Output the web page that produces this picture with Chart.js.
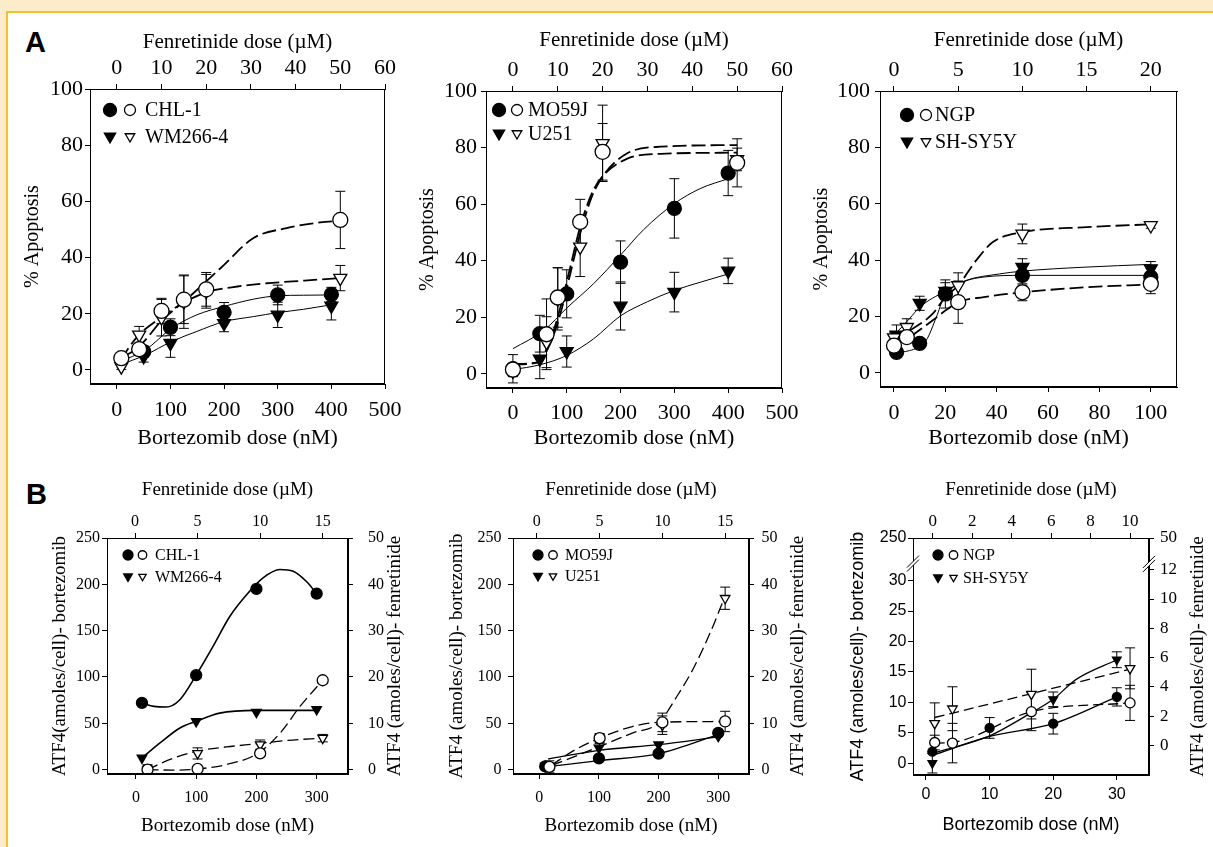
<!DOCTYPE html>
<html>
<head>
<meta charset="utf-8">
<script src="https://cdn.jsdelivr.net/npm/chart.js@4.4.0/dist/chart.umd.min.js"></script>
<style>
html, body { margin: 0; padding: 0; width: 1213px; height: 847px; overflow: hidden; background: #fcecca; position: relative; }
#sheet { position: absolute; left: 6px; top: 11px; width: 1300px; height: 900px; background: #fff; border-left: 2px solid #f2c12e; border-top: 2px solid #f2c12e; }
canvas { position: absolute; }
.tag { position: absolute; font: bold 29px 'Liberation Sans', Arial, sans-serif; line-height: 29px; color: #000; }
</style>
</head>
<body>
<div id="sheet"></div>
<div class="tag" style="left:25px;top:28px">A</div>
<div class="tag" style="left:26px;top:480px">B</div>
<canvas id="a1"></canvas>
<canvas id="a2"></canvas>
<canvas id="a3"></canvas>
<canvas id="b1"></canvas>
<canvas id="b2"></canvas>
<canvas id="b3"></canvas>
<script>
// ---- tick labels ----
const aBortTicks = [0, 100, 200, 300, 400, 500];
const aFenTicks = [0, 10, 20, 30, 40, 50, 60];
const aPctTicks = [0, 20, 40, 60, 80, 100];
const a3BortTicks = [0, 20, 40, 60, 80, 100];
const a3FenTicks = [0, 5, 10, 15, 20];
const bBortTicks = [0, 100, 200, 300];
const bFenTicks = [0, 5, 10, 15];
const bLeftTicks = [0, 50, 100, 150, 200, 250];
const bRightTicks = [0, 10, 20, 30, 40, 50];
const b3BortTicks = [0, 10, 20, 30];
const b3FenTicks = [0, 2, 4, 6, 8, 10];
const b3LeftTicks = [0, 5, 10, 15, 20, 25, 30, 37];
const b3LeftLabels = ['0', '5', '10', '15', '20', '25', '30', '250'];
const b3RightTicks = [0, 2, 4, 6, 8, 10, 12, 14.17];
const b3RightLabels = ['0', '2', '4', '6', '8', '10', '12', '50'];

// ---- cell lines ----
const melanoma = ['CHL-1', 'WM266-4'];
const glioma = ['MO59J', 'U251'];
const neuro = ['NGP', 'SH-SY5Y'];

// ---- A, melanoma ----
const a1BortDose = [50, 100, 200, 300, 400];
const a1ChlBort = [6.5, 15.2, 20.5, 26.7, 26.9];
const a1ChlBortErr = [2, 3, 3.5, 3.5, 2.5];
const a1WmBort = [4.8, 9.5, 16.6, 19.6, 22.8];
const a1WmBortErr = [2, 5, 3, 4.5, 5];
const a1FenDose = [1, 5, 10, 15, 20, 50];
const a1ChlFen = [4.2, 7.4, 21, 25, 28.7, 53.4];
const a1ChlFenErr = [1.5, 2, 4.5, 8.5, 6, 10.2];
const a1WmFen = [1.2, 12.5, 18.6, 24.3, 28, 32.7];
const a1WmFenErr = [1, 3, 6.5, 9.5, 6, 4.5];
const a1BortFitX = [6, 53, 102, 149, 200, 255, 300, 348, 400];
const a1ChlBortFit = [3, 7.1, 14.8, 19.6, 22.6, 25.2, 26.4, 26.6, 26.7];
const a1WmBortFit = [1.8, 5.3, 10.1, 13.7, 17.2, 19, 20.4, 21.6, 23.2];
const a1ChlFenFitX = [0.8, 5, 10, 15, 20, 24, 30.5, 38, 45.5, 50];
const a1ChlFenFit = [4.2, 8.3, 17.5, 24.3, 31.5, 37.4, 46.9, 50.5, 52.5, 53.1];
const a1WmFenFitX = [0.8, 4.6, 9.8, 15, 20, 27, 34, 42, 50];
const a1WmFenFit = [3.6, 11.9, 18.6, 24, 27.6, 29.7, 30.9, 31.8, 32.7];

// ---- A, glioma ----
const a2BortDose = [0, 50, 100, 200, 300, 400];
const a2MoBort = [1.8, 14.2, 28.3, 39.5, 58.5, 71];
const a2MoBortErr = [5, 6.5, 8.5, 7.5, 10.5, 8];
const a2UBort = [1.2, 5.3, 7.9, 24, 28.9, 36.4];
const a2UBortErr = [2, 7, 5.5, 8.5, 7, 4.5];
const a2FenDose = [0, 7.5, 10, 15, 20, 50];
const a2MoFen = [1.5, 14, 27, 53.7, 78.5, 74.6];
const a2MoFenErr = [2, 12.5, 10.5, 8, 10, 8.5];
const a2UFen = [1, 11.2, 26.5, 44.9, 81.5, 75.8];
const a2UFenErr = [2, 9, 11, 10.5, 13.5, 4];
const a2MoBortFitX = [0, 57, 102, 150, 200, 243, 300, 348, 400];
const a2MoBortFit = [8.9, 15.3, 23.6, 31.9, 42, 51, 60.2, 65.5, 69];
const a2UBortFitX = [0, 50, 100, 150, 200, 250, 300, 350, 400];
const a2UBortFit = [1.5, 3.2, 6.5, 12.4, 20.5, 25.5, 29.5, 32.5, 35.3];
const a2FenFitX = [0, 5.4, 8.3, 10.6, 12.8, 15, 17.6, 20.2, 25.4, 33, 50];
const a2MoFenFit = [3.5, 4.1, 11.8, 23.6, 37.8, 52, 63.8, 70.2, 76, 77.8, 78.2];
const a2UFenFit = [3.3, 4, 10.6, 21.3, 35.4, 49.6, 62.6, 70.2, 77.9, 80.3, 80.9];

// ---- A, neuroblastoma ----
const a3BortDose = [1, 10, 20, 50, 100];
const a3NgpBort = [7.3, 10.5, 28, 34.6, 34];
const a3NgpBortErr = [1.5, 1, 5, 3.5, 3];
const a3ShBort = [13.5, 24.7, 29, 37.5, 37];
const a3ShBortErr = [3.5, 2.5, 3, 3, 2.5];
const a3FenDose = [0, 1, 5, 10, 20];
const a3NgpFen = [9.7, 12.7, 25.1, 28.6, 31.6];
const a3NgpFenErr = [2, 2, 7.5, 3, 3.5];
const a3ShFen = [12.5, 16.2, 31, 49.3, 52.3];
const a3ShFenErr = [2, 3, 4.5, 3.5, 1];
const a3NgpBortFitX = [0, 6, 12.5, 16.5, 19.5, 25.5, 35, 50, 100];
const a3NgpBortFit = [7.3, 7.9, 11.5, 19.8, 26.9, 31.6, 34, 34.6, 34.6];
const a3ShBortFitX = [0, 6, 10, 20, 28, 41, 50, 74, 100];
const a3ShBortFit = [13.3, 19.2, 23.3, 29, 32.8, 35.1, 36.1, 37.5, 38.5];
const a3NgpFenFitX = [0, 1, 3, 4, 5, 7, 10, 15, 20];
const a3NgpFenFit = [9.7, 12.1, 18.6, 22.1, 25.1, 26.9, 28.6, 30.4, 31.4];
const a3ShFenFitX = [0, 1, 3, 4, 5, 6.4, 7.7, 10, 15, 20];
const a3ShFenFit = [11.5, 14.4, 20.9, 26.9, 31, 39.9, 46.4, 49.9, 51.7, 52.7];

// ---- B, melanoma ----
const b1BortDose = [10, 100, 200, 300];
const b1ChlBort = [72, 102, 195, 190];
const b1WmBort = [12.6, 52, 62, 65];
const b1FenDose = [1, 5, 10, 15];
const b1ChlFen = [0, 0.15, 3.5, 19.3];
const b1ChlFenErr = [1, 0, 0.5, 0];
const b1WmFen = [0, 3.5, 5.4, 6.8];
const b1WmFenErr = [1, 1.2, 1, 0.8];
const b1ChlBortFitX = [10, 30, 50, 73, 100, 128, 156, 184, 211, 239, 261, 283, 300];
const b1ChlBortFit = [72, 68.3, 67.6, 75.5, 102, 133, 165.5, 189, 207, 216, 214, 203, 190];
const b1WmBortFitX = [10, 40, 73, 100, 139, 200, 300];
const b1WmBortFit = [12.6, 28.8, 45, 52.2, 61, 64, 64];
const b1ChlFenFitX = [1, 3, 5, 7.3, 9.8, 11.6, 13.2, 15];
const b1ChlFenFit = [0, -0.1, 0.15, 1.1, 3.5, 7.9, 13.7, 19.3];
const b1WmFenFitX = [1, 2.8, 5, 7.3, 9.8, 12.1, 15];
const b1WmFenFit = [0, 2.2, 4, 4.9, 5.6, 6.3, 6.8];

// ---- B, glioma ----
const b2BortDose = [10, 100, 200, 300];
const b2MoBort = [3.5, 12.2, 17.3, 39.6];
const b2UBort = [4, 23.4, 27, 36];
const b2FenDose = [1, 5, 10, 15];
const b2MoFen = [0.6, 6.8, 10.2, 10.4];
const b2MoFenErr = [1.3, 1, 2, 2.2];
const b2UFen = [0.6, 6.6, 9.6, 37];
const b2UFenErr = [0.8, 1, 2, 2.4];
const b2MoBortFitX = [10, 100, 200, 300];
const b2MoBortFit = [2.9, 9.7, 17.3, 37.8];
const b2UBortFitX = [15, 100, 200, 300];
const b2UBortFit = [11.5, 20.9, 27, 35.3];
const b2MoFenFitX = [1.2, 2.8, 5, 7.6, 9.7, 15];
const b2MoFenFit = [1, 3.9, 6.8, 9.3, 10.2, 10.4];
const b2UFenFitX = [1.2, 5, 7.6, 9.7, 11.2, 12.5, 13.8, 14.9];
const b2UFenFit = [0.9, 5, 7.9, 10.1, 16, 22, 29.5, 36.8];

// ---- B, neuroblastoma ----
const b3NgpDose = [1, 10, 20, 30];
const b3NgpBort = [1.9, 5.8, 6.5, 10.9];
const b3NgpBortErr = [0, 1.7, 1.7, 1.5];
const b3ShDose = [1, 20, 30];
const b3ShBort = [0, 10.5, 17];
const b3ShBortErr = [1.6, 1.2, 1.3];
const b3FenDose = [0.1, 1, 5, 10];
const b3NgpFen = [0.19, 0.15, 2.3, 2.9];
const b3NgpFenErr = [0.5, 1.35, 1.3, 1.2];
const b3ShFen = [1.5, 2.5, 3.5, 5.26];
const b3ShFenErr = [1.4, 1.5, 1.7, 1.4];
const b3NgpBortFitX = [1, 10, 20, 30];
const b3NgpBortFit = [1.3, 4.4, 6.5, 10.9];
const b3ShBortFitX = [1, 10, 16.4, 20, 23.5, 30];
const b3ShBortFit = [1.6, 4.5, 8.2, 10.5, 13.7, 17];
const b3NgpFenFitX = [0.1, 1, 5, 10];
const b3NgpFenFit = [0.15, 0.2, 2.3, 2.9];
const b3ShFenFitX = [0.1, 10];
const b3ShFenFit = [1.9, 5.2];

const SERIF = "'Liberation Serif', 'Times New Roman', serif";
const SANS = "'Liberation Sans', Arial, sans-serif";
function f(size, family) { return { size: size, family: family || SERIF, lineHeight: 1.2 }; }

Chart.defaults.color = '#000';
Chart.defaults.font.family = SERIF;

function pts(xs, ys) { return xs.map((x, i) => ({ x: x, y: ys[i] })); }

function marks(xs, ys, err, shape, filled, xa, ya, r) {
  return {
    data: pts(xs, ys), err: err, showLine: false,
    pointStyle: shape === 'tri' ? 'triangle' : 'circle',
    pointRotation: shape === 'tri' ? 180 : 0,
    pointRadius: r, pointBackgroundColor: filled ? '#000' : '#fff',
    pointBorderColor: '#000', pointBorderWidth: 1.3,
    xAxisID: xa, yAxisID: ya, order: 0
  };
}

function fit(xs, ys, dash, xa, ya, w) {
  return {
    data: pts(xs, ys), showLine: true, pointRadius: 0, borderColor: '#000',
    borderWidth: w, borderDash: dash || [], cubicInterpolationMode: 'monotone',
    xAxisID: xa, yAxisID: ya, order: 1
  };
}

function drawMark(ctx, shape, filled, x, y, r) {
  ctx.beginPath();
  if (shape === 'circle') {
    ctx.arc(x, y, r, 0, Math.PI * 2);
  } else {
    ctx.moveTo(x - r * 0.866, y - r * 0.5);
    ctx.lineTo(x + r * 0.866, y - r * 0.5);
    ctx.lineTo(x, y + r);
    ctx.closePath();
  }
  ctx.fillStyle = filled ? '#000' : '#fff';
  ctx.fill();
  ctx.lineWidth = 1.3;
  ctx.strokeStyle = '#000';
  ctx.stroke();
}

const errorBars = {
  id: 'errorBars',
  beforeDatasetsDraw(chart) {
    const ctx = chart.ctx;
    chart.data.datasets.forEach((ds, i) => {
      if (!ds.err) return;
      const meta = chart.getDatasetMeta(i);
      const cap = ds.cap || 5;
      ctx.save();
      ctx.strokeStyle = '#000';
      ctx.lineWidth = 1;
      ds.data.forEach((p, j) => {
        const e = ds.err[j];
        if (!e) return;
        const px = meta.xScale.getPixelForValue(p.x);
        const top = meta.yScale.getPixelForValue(p.y + e);
        const bot = meta.yScale.getPixelForValue(p.y - e);
        ctx.beginPath();
        ctx.moveTo(px, top); ctx.lineTo(px, bot);
        ctx.moveTo(px - cap, top); ctx.lineTo(px + cap, top);
        ctx.moveTo(px - cap, bot); ctx.lineTo(px + cap, bot);
        ctx.stroke();
      });
      ctx.restore();
    });
  }
};

const frame = {
  id: 'frame',
  afterDraw(chart) {
    const a = chart.chartArea, ctx = chart.ctx;
    ctx.save();
    ctx.strokeStyle = '#000';
    ctx.lineWidth = 1;
    ctx.strokeRect(Math.round(a.left) + 0.5, Math.round(a.top) + 0.5,
      Math.round(a.right - a.left) - 1, Math.round(a.bottom - a.top) - 1);
    ctx.restore();
  }
};

const pairLegend = {
  id: 'pairLegend',
  afterDraw(chart, args, o) {
    if (!o.labels) return;
    const a = chart.chartArea, ctx = chart.ctx;
    ctx.save();
    o.labels.forEach((lab, i) => {
      const x = a.left + o.x, y = a.top + o.y + i * o.dy;
      const shape = i === 0 ? 'circle' : 'tri';
      drawMark(ctx, shape, true, x, y, o.r);
      drawMark(ctx, shape, false, x + o.gap, y, o.r * 0.85);
      ctx.fillStyle = '#000';
      ctx.font = o.size + 'px ' + SERIF;
      ctx.textAlign = 'left';
      ctx.textBaseline = 'middle';
      ctx.fillText(lab, x + o.text, y + 1);
    });
    ctx.restore();
  }
};

const rightTitle = {
  id: 'rightTitle',
  afterDraw(chart, args, o) {
    if (!o.text) return;
    const a = chart.chartArea, ctx = chart.ctx;
    ctx.save();
    ctx.translate(o.x, (a.top + a.bottom) / 2);
    ctx.rotate(-Math.PI / 2);
    ctx.fillStyle = '#000';
    ctx.font = o.size + 'px ' + (o.family || SERIF);
    ctx.textAlign = 'center';
    ctx.textBaseline = 'middle';
    ctx.fillText(o.text, 0, 0);
    ctx.restore();
  }
};

const axisBreak = {
  id: 'axisBreak',
  afterDraw(chart, args, o) {
    if (o.left == null) return;
    const a = chart.chartArea, ctx = chart.ctx;
    const spots = [[a.left, chart.scales.y.getPixelForValue(o.left)],
                   [a.right, chart.scales.y2.getPixelForValue(o.right)]];
    spots.forEach(s => {
      const x = s[0], y = s[1];
      ctx.save();
      ctx.fillStyle = '#fff';
      ctx.beginPath();
      ctx.moveTo(x - 6, y + 4); ctx.lineTo(x + 6, y - 8);
      ctx.lineTo(x + 6, y - 4); ctx.lineTo(x - 6, y + 8);
      ctx.closePath(); ctx.fill();
      ctx.strokeStyle = '#000';
      ctx.lineWidth = 1;
      ctx.beginPath();
      ctx.moveTo(x - 6, y + 4); ctx.lineTo(x + 6, y - 8);
      ctx.moveTo(x - 6, y + 8); ctx.lineTo(x + 6, y - 4);
      ctx.stroke();
      ctx.restore();
    });
  }
};

function baseAxis(a, pos) {
  return {
    type: 'linear', position: pos, bounds: 'data', min: a.min, max: a.max,
    afterBuildTicks: s => { s.ticks = a.ticks.map(v => ({ value: v })); },
    ticks: {
      font: a.font, color: '#000', autoSkip: false, maxRotation: 0, minRotation: 0,
      callback: (v, i) => a.labels ? a.labels[i] : String(v)
    },
    grid: { display: true, drawOnChartArea: false, drawTicks: true, tickLength: 5, color: '#000', tickColor: '#000', lineWidth: 1 },
    border: { display: true, color: '#000', width: 1 },
    title: { display: !!a.title && pos !== 'right', text: a.title, font: a.titleFont, color: '#000' }
  };
}

function makePanel(id, p) {
  const cv = document.getElementById(id);
  const bl = p.box[0], bt = p.box[1], br = p.box[2], bb = p.box[3];
  const al = p.area[0], at = p.area[1], ar = p.area[2], ab = p.area[3];
  cv.width = br - bl; cv.height = bb - bt;
  cv.style.left = bl + 'px'; cv.style.top = bt + 'px';
  const half = ft => ft.size * 0.6;

  const x = baseAxis(p.x, 'bottom');
  x.ticks.padding = p.x.tickAt - ab - 5 - half(p.x.font);
  x.title.padding = { top: 0, bottom: bb - p.x.titleAt - half(p.x.titleFont) };
  x.afterFit = s => { s.height = bb - ab; };

  const x2 = baseAxis(p.x2, 'top');
  x2.ticks.padding = at - 5 - half(p.x2.font) - p.x2.tickAt;
  x2.title.padding = { top: p.x2.titleAt - bt - half(p.x2.titleFont), bottom: 0 };
  x2.afterFit = s => { s.height = at - bt; };

  const y = baseAxis(p.y, 'left');
  y.ticks.padding = al - 5 - p.y.tickAt;
  y.title.padding = { top: p.y.titleAt - bl - half(p.y.titleFont), bottom: 0 };
  y.afterFit = s => { s.width = al - bl; };

  const scales = { x: x, x2: x2, y: y };
  let padRight = br - ar;
  if (p.y2) {
    const y2 = baseAxis(p.y2, 'right');
    y2.ticks.padding = p.y2.tickAt - ar - 5;
    y2.afterFit = s => { s.width = br - ar; };
    scales.y2 = y2;
    padRight = 0;
  }

  return new Chart(cv.getContext('2d'), {
    type: 'scatter',
    data: { datasets: p.datasets },
    options: {
      responsive: false, animation: false, events: [],
      layout: { padding: { left: 0, top: 0, bottom: 0, right: padRight } },
      scales: scales,
      plugins: {
        legend: { display: false }, tooltip: { enabled: false },
        pairLegend: p.legend,
        rightTitle: p.y2 ? { text: p.y2.title, x: p.y2.titleAt - bl, size: p.y2.titleFont.size } : {},
        axisBreak: p.breaks || {}
      }
    },
    plugins: [errorBars, frame, pairLegend, rightTitle, axisBreak]
  });
}

const bortTitle = 'Bortezomib dose (nM)';
const fenTitle = 'Fenretinide dose (\u00b5M)';
const apoTitle = '% Apoptosis';
const DA = [14, 5], DB = [11, 5];

// ---------- A1 ----------
makePanel('a1', {
  box: [5, 22, 420, 458], area: [90, 89, 385, 384],
  x: { min: -50, max: 500, ticks: aBortTicks, font: f(22), title: bortTitle, titleFont: f(22), tickAt: 410, titleAt: 438 },
  x2: { min: -6, max: 60, ticks: aFenTicks, font: f(22), title: fenTitle, titleFont: f(21), tickAt: 68, titleAt: 42 },
  y: { min: -5, max: 100, ticks: aPctTicks, font: f(22), title: apoTitle, titleFont: f(20), tickAt: 83, titleAt: 33 },
  legend: { labels: melanoma, x: 20, y: 21, dy: 26.5, gap: 20, text: 35, r: 6.5, size: 20 },
  datasets: [
    marks(a1FenDose, a1ChlFen, a1ChlFenErr, 'circle', false, 'x2', 'y', 7.5),
    marks(a1FenDose, a1WmFen, a1WmFenErr, 'tri', false, 'x2', 'y', 7.5),
    marks(a1BortDose, a1ChlBort, a1ChlBortErr, 'circle', true, 'x', 'y', 7),
    marks(a1BortDose, a1WmBort, a1WmBortErr, 'tri', true, 'x', 'y', 7.5),
    fit(a1BortFitX, a1ChlBortFit, null, 'x', 'y', 1),
    fit(a1BortFitX, a1WmBortFit, null, 'x', 'y', 1),
    fit(a1ChlFenFitX, a1ChlFenFit, DA, 'x2', 'y', 1.8),
    fit(a1WmFenFitX, a1WmFenFit, DA, 'x2', 'y', 1.8)
  ]
});

// ---------- A2 ----------
makePanel('a2', {
  box: [400, 22, 815, 458], area: [486, 91, 782, 388],
  x: { min: -50, max: 500, ticks: aBortTicks, font: f(22), title: bortTitle, titleFont: f(22), tickAt: 413, titleAt: 438 },
  x2: { min: -6, max: 60, ticks: aFenTicks, font: f(22), title: fenTitle, titleFont: f(21), tickAt: 70, titleAt: 40 },
  y: { min: -5, max: 100, ticks: aPctTicks, font: f(22), title: apoTitle, titleFont: f(20), tickAt: 477, titleAt: 428 },
  legend: { labels: glioma, x: 13, y: 19, dy: 23.5, gap: 18, text: 29, r: 6.5, size: 20 },
  datasets: [
    marks(a2FenDose, a2MoFen, a2MoFenErr, 'circle', false, 'x2', 'y', 7.5),
    marks(a2FenDose, a2UFen, a2UFenErr, 'tri', false, 'x2', 'y', 7.5),
    marks(a2BortDose, a2MoBort, a2MoBortErr, 'circle', true, 'x', 'y', 7),
    marks(a2BortDose, a2UBort, a2UBortErr, 'tri', true, 'x', 'y', 7.5),
    fit(a2MoBortFitX, a2MoBortFit, null, 'x', 'y', 1),
    fit(a2UBortFitX, a2UBortFit, null, 'x', 'y', 1),
    fit(a2FenFitX, a2MoFenFit, DA, 'x2', 'y', 1.8),
    fit(a2FenFitX, a2UFenFit, DA, 'x2', 'y', 1.8)
  ]
});

// ---------- A3 ----------
makePanel('a3', {
  box: [795, 22, 1210, 458], area: [880, 91, 1177, 387],
  x: { min: -5.45, max: 110.2, ticks: a3BortTicks, font: f(22), title: bortTitle, titleFont: f(22), tickAt: 413, titleAt: 438 },
  x2: { min: -1.09, max: 22.04, ticks: a3FenTicks, font: f(22), title: fenTitle, titleFont: f(21), tickAt: 70, titleAt: 40 },
  y: { min: -5, max: 100, ticks: aPctTicks, font: f(22), title: apoTitle, titleFont: f(20), tickAt: 870, titleAt: 822 },
  legend: { labels: neuro, x: 27, y: 24, dy: 26.5, gap: 19, text: 28, r: 6.5, size: 20 },
  datasets: [
    marks(a3FenDose, a3NgpFen, a3NgpFenErr, 'circle', false, 'x2', 'y', 7.5),
    marks(a3FenDose, a3ShFen, a3ShFenErr, 'tri', false, 'x2', 'y', 7.5),
    marks(a3BortDose, a3NgpBort, a3NgpBortErr, 'circle', true, 'x', 'y', 7),
    marks(a3BortDose, a3ShBort, a3ShBortErr, 'tri', true, 'x', 'y', 7.5),
    fit(a3NgpBortFitX, a3NgpBortFit, null, 'x', 'y', 1),
    fit(a3ShBortFitX, a3ShBortFit, null, 'x', 'y', 1),
    fit(a3NgpFenFitX, a3NgpFenFit, DA, 'x2', 'y', 1.8),
    fit(a3ShFenFitX, a3ShFenFit, DA, 'x2', 'y', 1.8)
  ]
});

// ---------- B1 ----------
makePanel('b1', {
  box: [20, 470, 420, 845], area: [107, 538, 348, 774],
  x: { min: -48, max: 352, ticks: bBortTicks, font: f(16), title: bortTitle, titleFont: f(19), tickAt: 798, titleAt: 826.5 },
  x2: { min: -2.24, max: 17.02, ticks: bFenTicks, font: f(16), title: fenTitle, titleFont: f(19), tickAt: 521.5, titleAt: 490 },
  y: { min: -4.7, max: 250, ticks: bLeftTicks, font: f(16), title: 'ATF4(amoles/cell)- bortezomib', titleFont: f(19), tickAt: 100, titleAt: 60 },
  y2: { min: -0.94, max: 50, ticks: bRightTicks, font: f(16), title: 'ATF4 (amoles/cell)- fenretinide', titleFont: f(19), tickAt: 368, titleAt: 395 },
  legend: { labels: melanoma, x: 21, y: 17, dy: 21.5, gap: 14.5, text: 27, r: 5, size: 16 },
  datasets: [
    marks(b1FenDose, b1ChlFen, b1ChlFenErr, 'circle', false, 'x2', 'y2', 5.5),
    marks(b1FenDose, b1WmFen, b1WmFenErr, 'tri', false, 'x2', 'y2', 5.5),
    marks(b1BortDose, b1ChlBort, null, 'circle', true, 'x', 'y', 5.5),
    marks(b1BortDose, b1WmBort, null, 'tri', true, 'x', 'y', 5.5),
    fit(b1ChlBortFitX, b1ChlBortFit, null, 'x', 'y', 1.6),
    fit(b1WmBortFitX, b1WmBortFit, null, 'x', 'y', 1.6),
    fit(b1ChlFenFitX, b1ChlFenFit, DB, 'x2', 'y2', 1.3),
    fit(b1WmFenFitX, b1WmFenFit, DB, 'x2', 'y2', 1.3)
  ]
});

// ---------- B2 ----------
makePanel('b2', {
  box: [420, 470, 820, 845], area: [513, 538, 749, 774],
  x: { min: -44, max: 351.5, ticks: bBortTicks, font: f(16), title: bortTitle, titleFont: f(19), tickAt: 798, titleAt: 826.5 },
  x2: { min: -1.9, max: 16.9, ticks: bFenTicks, font: f(16), title: fenTitle, titleFont: f(19), tickAt: 521.5, titleAt: 490 },
  y: { min: -4.7, max: 250, ticks: bLeftTicks, font: f(16), title: 'ATF4 (amoles/cell)- bortezomib', titleFont: f(19), tickAt: 501.5, titleAt: 457 },
  y2: { min: -0.94, max: 50, ticks: bRightTicks, font: f(16), title: 'ATF4 (amoles/cell)- fenretinide', titleFont: f(19), tickAt: 761.5, titleAt: 798 },
  legend: { labels: glioma, x: 25, y: 17, dy: 21, gap: 15, text: 27, r: 5, size: 16 },
  datasets: [
    marks(b2FenDose, b2MoFen, b2MoFenErr, 'circle', false, 'x2', 'y2', 5.5),
    marks(b2FenDose, b2UFen, b2UFenErr, 'tri', false, 'x2', 'y2', 5.5),
    marks(b2BortDose, b2MoBort, null, 'circle', true, 'x', 'y', 5.5),
    marks(b2BortDose, b2UBort, null, 'tri', true, 'x', 'y', 5.5),
    fit(b2MoBortFitX, b2MoBortFit, null, 'x', 'y', 1.3),
    fit(b2UBortFitX, b2UBortFit, null, 'x', 'y', 1.3),
    fit(b2MoFenFitX, b2MoFenFit, DB, 'x2', 'y2', 1.3),
    fit(b2UFenFitX, b2UFenFit, DB, 'x2', 'y2', 1.3)
  ]
});

// ---------- B3 ----------
makePanel('b3', {
  box: [830, 470, 1213, 845], area: [913, 538, 1149, 775],
  x: { min: -2.04, max: 35.06, ticks: b3BortTicks, font: f(16, SANS), title: bortTitle, titleFont: f(18, SANS), tickAt: 795, titleAt: 825 },
  x2: { min: -1, max: 10.96, ticks: b3FenTicks, font: f(17), title: fenTitle, titleFont: f(19), tickAt: 521.5, titleAt: 490 },
  y: { min: -1.93, max: 37, ticks: b3LeftTicks, labels: b3LeftLabels, font: f(16, SANS), title: 'ATF4 (amoles/cell)- bortezomib', titleFont: f(18, SANS), tickAt: 906.5, titleAt: 858 },
  y2: { min: -2.03, max: 14.17, ticks: b3RightTicks, labels: b3RightLabels, font: f(17), title: 'ATF4 (amoles/cell)- fenretinide', titleFont: f(19), tickAt: 1160, titleAt: 1198 },
  legend: { labels: neuro, x: 25, y: 17, dy: 22.5, gap: 15.5, text: 25, r: 5, size: 16 },
  breaks: { left: 32.8, right: 12.4 },
  datasets: [
    marks(b3FenDose, b3NgpFen, b3NgpFenErr, 'circle', false, 'x2', 'y2', 5),
    marks(b3FenDose, b3ShFen, b3ShFenErr, 'tri', false, 'x2', 'y2', 5.5),
    marks(b3NgpDose, b3NgpBort, b3NgpBortErr, 'circle', true, 'x', 'y', 4.5),
    marks(b3ShDose, b3ShBort, b3ShBortErr, 'tri', true, 'x', 'y', 5),
    fit(b3NgpBortFitX, b3NgpBortFit, null, 'x', 'y', 1.3),
    fit(b3ShBortFitX, b3ShBortFit, null, 'x', 'y', 1.3),
    fit(b3NgpFenFitX, b3NgpFenFit, [10, 5], 'x2', 'y2', 1.3),
    fit(b3ShFenFitX, b3ShFenFit, [10, 5], 'x2', 'y2', 1.3)
  ]
});
</script>
</body>
</html>
